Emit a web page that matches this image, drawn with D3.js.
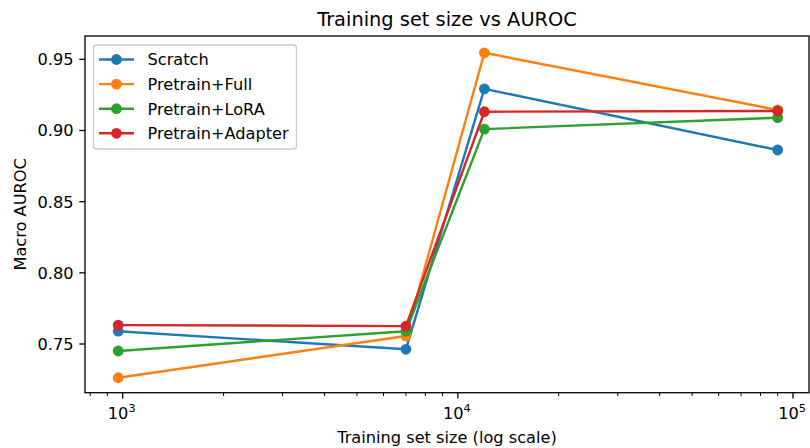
<!DOCTYPE html>
<html>
<head>
<meta charset="utf-8">
<script src="https://cdn.jsdelivr.net/npm/d3@7"></script>
<style>
  body { margin: 0; background: #fff; }
  svg { font-family: "DejaVu Sans", sans-serif; }
</style>
</head>
<body>
<div id="chart"></div>
<script>
// training set sizes (x) and macro AUROC per method
const trainSizes = [970, 7000, 12000, 90000];
const seriesNames = ['Scratch', 'Pretrain+Full', 'Pretrain+LoRA', 'Pretrain+Adapter'];
const scratch = [0.759, 0.7463, 0.9293, 0.8863];
const pretrainFull = [0.7263, 0.7556, 0.9546, 0.9144];
const pretrainLora = [0.7451, 0.7590, 0.9010, 0.9090];
const pretrainAdapter = [0.7633, 0.7626, 0.9132, 0.9137];
const yTicks = [0.75, 0.80, 0.85, 0.90, 0.95];
const xMajorTicks = [1e3, 1e4, 1e5];

const colors = ['#1f77b4', '#ff7f0e', '#2ca02c', '#d62728'];
const allSeries = [scratch, pretrainFull, pretrainLora, pretrainAdapter];

const width = 810;
const height = 448;
const margin = {top: 36, right: 1, bottom: 55.3, left: 85};
const fontSize = 16.2;
const markerR = 5.4;

const svg = d3.select('#chart')
  .append('svg')
  .attr('width', width)
  .attr('height', height);

const x = d3.scaleLog()
  .domain([772, 111600])
  .range([margin.left, width - margin.right]);

const y = d3.scaleLinear()
  .domain([0.7158, 0.9664])
  .range([height - margin.bottom, margin.top]);

const plotBottom = height - margin.bottom;

// minor log ticks
const minorTicks = [];
[100, 1000, 10000].forEach(base => {
  for (let m = 2; m <= 9; m++) {
    const v = base * m;
    if (v >= x.domain()[0] && v <= x.domain()[1]) minorTicks.push(v);
  }
});

const axisG = svg.append('g').attr('stroke', '#000');

axisG.selectAll('line.minor')
  .data(minorTicks)
  .enter()
  .append('line')
  .attr('x1', d => x(d))
  .attr('x2', d => x(d))
  .attr('y1', plotBottom)
  .attr('y2', plotBottom + 3.3)
  .attr('stroke-width', 1);

axisG.selectAll('line.major')
  .data(xMajorTicks)
  .enter()
  .append('line')
  .attr('x1', d => x(d))
  .attr('x2', d => x(d))
  .attr('y1', plotBottom)
  .attr('y2', plotBottom + 5.7)
  .attr('stroke-width', 1.3);

const xLabels = svg.append('g')
  .selectAll('text')
  .data(xMajorTicks)
  .enter()
  .append('text')
  .attr('x', d => x(d) - 1)
  .attr('y', plotBottom + 26.6)
  .attr('text-anchor', 'middle')
  .attr('font-size', fontSize)
  .attr('fill', '#000');
xLabels.append('tspan').text('10');
xLabels.append('tspan')
  .attr('dy', -7)
  .attr('font-size', 11.3)
  .text(d => Math.round(Math.log10(d)));

// y axis
svg.selectAll('line.ytick')
  .data(yTicks)
  .enter()
  .append('line')
  .attr('x1', margin.left - 5.7)
  .attr('x2', margin.left)
  .attr('y1', d => y(d))
  .attr('y2', d => y(d))
  .attr('stroke', '#000')
  .attr('stroke-width', 1.3);

svg.selectAll('text.ytick')
  .data(yTicks)
  .enter()
  .append('text')
  .attr('x', margin.left - 11.5)
  .attr('y', d => y(d))
  .attr('dy', '0.36em')
  .attr('text-anchor', 'end')
  .attr('font-size', fontSize)
  .attr('fill', '#000')
  .text(d => d3.format('.2f')(d));

// lines
const line = d3.line()
  .x((d, i) => x(trainSizes[i]))
  .y(d => y(d));

const plot = svg.append('g');
allSeries.forEach((vals, k) => {
  plot.append('path')
    .datum(vals)
    .attr('d', line)
    .attr('fill', 'none')
    .attr('stroke', colors[k])
    .attr('stroke-width', 2.4)
    .attr('stroke-linejoin', 'round');
  plot.selectAll(null)
    .data(vals)
    .enter()
    .append('circle')
    .attr('cx', (d, i) => x(trainSizes[i]))
    .attr('cy', d => y(d))
    .attr('r', markerR)
    .attr('fill', colors[k]);
});

// spines
svg.append('rect')
  .attr('x', margin.left)
  .attr('y', margin.top)
  .attr('width', width - margin.right - margin.left)
  .attr('height', plotBottom - margin.top)
  .attr('fill', 'none')
  .attr('stroke', '#000')
  .attr('stroke-width', 1.3);

// legend
const legend = svg.append('g');
legend.append('rect')
  .attr('x', 93.5)
  .attr('y', 45)
  .attr('width', 203)
  .attr('height', 104)
  .attr('rx', 3)
  .attr('fill', '#fff')
  .attr('fill-opacity', 0.8)
  .attr('stroke', '#cccccc')
  .attr('stroke-width', 1.3);

seriesNames.forEach((name, k) => {
  const ly = 59.5 + k * 24.6;
  legend.append('line')
    .attr('x1', 99)
    .attr('x2', 134)
    .attr('y1', ly)
    .attr('y2', ly)
    .attr('stroke', colors[k])
    .attr('stroke-width', 2.4);
  legend.append('circle')
    .attr('cx', 116.5)
    .attr('cy', ly)
    .attr('r', markerR)
    .attr('fill', colors[k]);
  legend.append('text')
    .attr('x', 147.5)
    .attr('y', ly)
    .attr('dy', '0.36em')
    .attr('font-size', fontSize)
    .attr('fill', '#000')
    .text(name);
});

// titles
svg.append('text')
  .attr('x', (margin.left + width - margin.right) / 2)
  .attr('y', 26)
  .attr('text-anchor', 'middle')
  .attr('font-size', 19.4)
  .attr('fill', '#000')
  .text('Training set size vs AUROC');

svg.append('text')
  .attr('x', (margin.left + width - margin.right) / 2)
  .attr('y', 443.3)
  .attr('text-anchor', 'middle')
  .attr('font-size', fontSize)
  .attr('fill', '#000')
  .text('Training set size (log scale)');

svg.append('text')
  .attr('transform', 'translate(26,' + ((margin.top + plotBottom) / 2) + ') rotate(-90)')
  .attr('text-anchor', 'middle')
  .attr('font-size', fontSize)
  .attr('fill', '#000')
  .text('Macro AUROC');
</script>
</body>
</html>
